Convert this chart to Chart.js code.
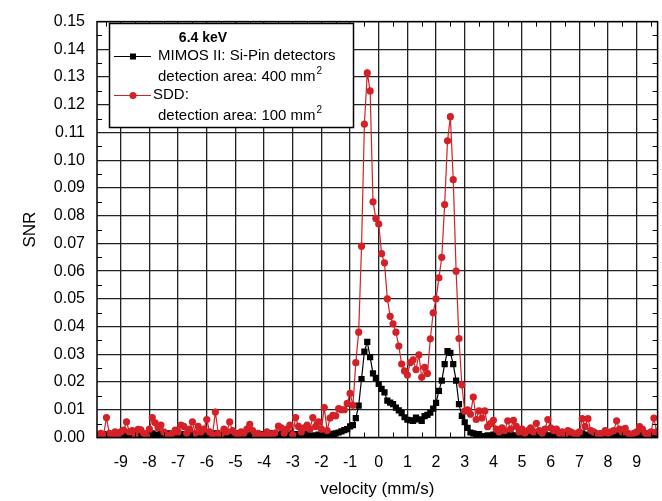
<!DOCTYPE html>
<html>
<head>
<meta charset="utf-8">
<script src="https://cdn.jsdelivr.net/npm/chart.js@4.4.0/dist/chart.umd.min.js"></script>
<style>
  html, body { margin: 0; padding: 0; background: #fff; }
  canvas { display: block; }
</style>
</head>
<body>
<canvas id="snr-chart" width="662" height="501"></canvas>
<script>
// velocity channels (mm/s)
var velocity = [
  -9.8,-9.7,-9.6,-9.5,-9.4,-9.3,-9.2,-9.1,-9.0,-8.9,
  -8.8,-8.7,-8.6,-8.5,-8.4,-8.3,-8.2,-8.1,-8.0,-7.9,
  -7.8,-7.7,-7.6,-7.5,-7.4,-7.3,-7.2,-7.1,-7.0,-6.9,
  -6.8,-6.7,-6.6,-6.5,-6.4,-6.3,-6.2,-6.1,-6.0,-5.9,
  -5.8,-5.7,-5.6,-5.5,-5.4,-5.3,-5.2,-5.1,-5.0,-4.9,
  -4.8,-4.7,-4.6,-4.5,-4.4,-4.3,-4.2,-4.1,-4.0,-3.9,
  -3.8,-3.7,-3.6,-3.5,-3.4,-3.3,-3.2,-3.1,-3.0,-2.9,
  -2.8,-2.7,-2.6,-2.5,-2.4,-2.3,-2.2,-2.1,-2.0,-1.9,
  -1.8,-1.7,-1.6,-1.5,-1.4,-1.3,-1.2,-1.1,-1.0,-0.9,
  -0.8,-0.7,-0.6,-0.5,-0.4,-0.3,-0.2,-0.1,0.0,0.1,
  0.2,0.3,0.4,0.5,0.6,0.7,0.8,0.9,1.0,1.1,
  1.2,1.3,1.4,1.5,1.6,1.7,1.8,1.9,2.0,2.1,
  2.2,2.3,2.4,2.5,2.6,2.7,2.8,2.9,3.0,3.1,
  3.2,3.3,3.4,3.5,3.6,3.7,3.8,3.9,4.0,4.1,
  4.2,4.3,4.4,4.5,4.6,4.7,4.8,4.9,5.0,5.1,
  5.2,5.3,5.4,5.5,5.6,5.7,5.8,5.9,6.0,6.1,
  6.2,6.3,6.4,6.5,6.6,6.7,6.8,6.9,7.0,7.1,
  7.2,7.3,7.4,7.5,7.6,7.7,7.8,7.9,8.0,8.1,
  8.2,8.3,8.4,8.5,8.6,8.7,8.8,8.9,9.0,9.1,
  9.2,9.3,9.4,9.5,9.6,9.7
];

// MIMOS II, Si-Pin detectors (400 mm2)
var mimosSnr = [
  0.0005,0.0010,0.0008,0.0012,0.0005,0.0010,0.0015,0.0008,0.0010,0.0005,
  0.0012,0.0008,0.0010,0.0015,0.0005,0.0010,0.0012,0.0008,0.0010,0.0015,
  0.0010,0.0005,0.0012,0.0010,0.0008,0.0015,0.0010,0.0005,0.0010,0.0012,
  0.0008,0.0010,0.0015,0.0005,0.0010,0.0012,0.0008,0.0010,0.0005,0.0012,
  0.0010,0.0015,0.0008,0.0010,0.0005,0.0012,0.0010,0.0008,0.0015,0.0010,
  0.0005,0.0012,0.0010,0.0008,0.0015,0.0010,0.0005,0.0012,0.0010,0.0008,
  0.0010,0.0015,0.0005,0.0010,0.0012,0.0008,0.0010,0.0015,0.0008,0.0012,
  0.0010,0.0008,0.0012,0.0010,0.0005,0.0008,0.0005,0.0010,0.0008,0.0010,
  0.0012,0.0010,0.0013,0.0015,0.0018,0.0022,0.0027,0.0030,0.0040,0.0045,
  0.0070,0.0115,0.0211,0.0310,0.0345,0.0290,0.0231,0.0215,0.0193,0.0175,
  0.0163,0.0133,0.0126,0.0120,0.0108,0.0098,0.0088,0.0073,0.0064,0.0062,
  0.0060,0.0072,0.0065,0.0060,0.0077,0.0082,0.0090,0.0104,0.0125,0.0168,
  0.0205,0.0265,0.0312,0.0305,0.0265,0.0205,0.0120,0.0078,0.0055,0.0035,
  0.0018,0.0015,0.0010,0.0012,0.0005,0.0003,0.0008,0.0005,0.0010,0.0012,
  0.0008,0.0010,0.0005,0.0012,0.0010,0.0008,0.0005,0.0010,0.0012,0.0008,
  0.0010,0.0005,0.0012,0.0008,0.0010,0.0015,0.0010,0.0005,0.0008,0.0012,
  0.0010,0.0008,0.0012,0.0010,0.0005,0.0010,0.0008,0.0012,0.0010,0.0015,
  0.0008,0.0010,0.0005,0.0012,0.0010,0.0008,0.0015,0.0010,0.0012,0.0008,
  0.0010,0.0012,0.0008,0.0015,0.0010,0.0005,0.0010,0.0012,0.0008,0.0010,
  0.0012,0.0008,0.0015,0.0010,0.0005,0.0010
];

// SDD (100 mm2)
var sddSnr = [
  0.0000,0.0015,0.0010,0.0072,0.0015,0.0005,0.0020,0.0010,0.0020,0.0027,
  0.0056,0.0020,0.0025,0.0010,0.0029,0.0028,0.0015,0.0005,0.0030,0.0072,
  0.0053,0.0035,0.0045,0.0020,0.0010,0.0005,0.0015,0.0027,0.0020,0.0045,
  0.0040,0.0015,0.0030,0.0056,0.0015,0.0040,0.0020,0.0030,0.0065,0.0020,
  0.0010,0.0092,0.0015,0.0010,0.0030,0.0020,0.0056,0.0025,0.0015,0.0010,
  0.0020,0.0015,0.0030,0.0047,0.0025,0.0005,0.0015,0.0005,0.0010,0.0020,
  0.0005,0.0012,0.0017,0.0041,0.0035,0.0015,0.0030,0.0045,0.0010,0.0072,
  0.0040,0.0020,0.0035,0.0045,0.0030,0.0072,0.0040,0.0056,0.0030,0.0108,
  0.0025,0.0070,0.0080,0.0078,0.0104,0.0100,0.0100,0.0123,0.0159,0.0116,
  0.0270,0.0380,0.0690,0.1130,0.1315,0.1250,0.0850,0.0790,0.0770,0.0663,
  0.0630,0.0500,0.0437,0.0410,0.0380,0.0330,0.0265,0.0240,0.0225,0.0270,
  0.0280,0.0245,0.0298,0.0217,0.0253,0.0231,0.0356,0.0450,0.0500,0.0576,
  0.0650,0.0840,0.1070,0.1157,0.0930,0.0600,0.0357,0.0190,0.0095,0.0100,
  0.0084,0.0146,0.0065,0.0096,0.0070,0.0096,0.0039,0.0050,0.0062,0.0030,
  0.0020,0.0035,0.0025,0.0060,0.0030,0.0062,0.0040,0.0020,0.0030,0.0015,
  0.0025,0.0035,0.0020,0.0051,0.0025,0.0015,0.0030,0.0065,0.0035,0.0025,
  0.0030,0.0015,0.0020,0.0010,0.0025,0.0020,0.0015,0.0010,0.0020,0.0068,
  0.0040,0.0068,0.0025,0.0020,0.0015,0.0005,0.0015,0.0025,0.0015,0.0020,
  0.0025,0.0060,0.0030,0.0020,0.0033,0.0015,0.0010,0.0015,0.0020,0.0039,
  0.0030,0.0015,0.0010,0.0020,0.0070,0.0020
];

var xMin = -9.83, xMax = 9.73;
var yMin = 0, yMax = 0.15;

var sddColor = "#d42027";
var fontFamily = "'Liberation Sans', Arial, sans-serif";

function toPoints(xs, ys) {
    var pts = [];
    for (var i = 0; i < xs.length; i++) {
        pts.push({x: xs[i], y: ys[i]});
    }
    return pts;
}

// frame: borders on all sides plus short inward minor ticks
var frame = {
    id: "frame",
    afterDatasetsDraw: function(chart) {
        var c = chart.ctx, a = chart.chartArea;
        var xs = chart.scales.x, ys = chart.scales.y;
        c.save();
        c.strokeStyle = "#000";
        c.lineWidth = 1;
        c.beginPath();
        for (var v = -9.5; v <= xMax; v += 0.5) {
            if (Math.abs(v % 1) < 0.01) continue;
            var px = Math.round(xs.getPixelForValue(v)) + 0.5;
            c.moveTo(px, a.bottom); c.lineTo(px, a.bottom - 5);
            c.moveTo(px, a.top); c.lineTo(px, a.top + 5);
        }
        for (var k = 1; k < 30; k += 2) {
            var py = Math.round(ys.getPixelForValue(k * 0.005)) + 0.5;
            c.moveTo(a.left, py); c.lineTo(a.left + 5, py);
            c.moveTo(a.right, py); c.lineTo(a.right - 5, py);
        }
        c.stroke();
        c.lineWidth = 1.5;
        c.strokeRect(a.left, a.top, a.right - a.left, a.bottom - a.top);
        c.restore();
    }
};

// the boxed legend in the upper left
var legendBox = {
    id: "legendBox",
    afterDraw: function(chart) {
        var c = chart.ctx;
        c.save();
        c.fillStyle = "#fff";
        c.fillRect(109, 23, 244, 104);
        c.strokeStyle = "#000";
        c.lineWidth = 1.5;
        c.strokeRect(109.5, 23.5, 244, 104);

        c.fillStyle = "#000";
        c.textBaseline = "middle";
        c.textAlign = "center";
        c.font = "bold 14px " + fontFamily;
        c.fillText("6.4 keV", 203, 38);

        c.textAlign = "left";
        c.font = "15px " + fontFamily;

        // black square entry
        c.strokeStyle = "#000"; c.lineWidth = 1.2;
        c.beginPath(); c.moveTo(114, 56.5); c.lineTo(151, 56.5); c.stroke();
        c.fillRect(130, 53.5, 6, 6);
        c.fillText("MIMOS II: Si-Pin detectors", 158, 56);
        drawArea(c, "detection area: 400 mm", 158, 77);

        // red circle entry
        c.strokeStyle = sddColor;
        c.beginPath(); c.moveTo(114, 95.5); c.lineTo(151, 95.5); c.stroke();
        c.fillStyle = sddColor;
        c.beginPath(); c.arc(133, 95.5, 3.5, 0, Math.PI * 2); c.fill();
        c.fillStyle = "#000";
        c.fillText("SDD:", 153, 95);
        drawArea(c, "detection area: 100 mm", 158, 116);
        c.restore();
    }
};

function drawArea(c, text, x, y) {
    c.font = "15px " + fontFamily;
    c.fillText(text, x, y);
    var w = c.measureText(text).width;
    c.font = "10px " + fontFamily;
    c.fillText("2", x + w + 1, y - 6);
    c.font = "15px " + fontFamily;
}

var ctx = document.getElementById("snr-chart");

var chartData = {
    datasets: [{
        label: "SDD",
        data: toPoints(velocity, sddSnr),
        borderColor: sddColor,
        backgroundColor: sddColor,
        borderWidth: 1.2,
        pointStyle: "circle",
        pointRadius: 3.6,
        pointBorderWidth: 0,
        tension: 0
    }, {
        label: "MIMOS II",
        data: toPoints(velocity, mimosSnr),
        borderColor: "#000",
        backgroundColor: "#000",
        borderWidth: 1.2,
        pointStyle: "rect",
        pointRadius: 4.4,
        pointBorderWidth: 0,
        tension: 0
    }]
};

var config = {
    type: "line",
    data: chartData,
    options: {
        responsive: false,
        animation: false,
        layout: { padding: { top: 17, right: 1, left: 0, bottom: 0 } },
        plugins: {
            legend: { display: false },
            tooltip: { enabled: false }
        },
        scales: {
            x: {
                type: "linear",
                min: xMin,
                max: xMax,
                afterFit: function(scale) { scale.height = 63.5; },
                grid: { color: "#222", lineWidth: 1.3, drawTicks: false },
                border: { display: false },
                ticks: {
                    stepSize: 1,
                    includeBounds: false,
                    padding: 15,
                    color: "#000",
                    font: { family: fontFamily, size: 16 },
                    maxRotation: 0,
                    callback: function(v) { return String(Math.round(v)); }
                },
                title: {
                    display: true,
                    text: "velocity (mm/s)",
                    color: "#000",
                    font: { family: fontFamily, size: 17 },
                    padding: { top: 0, bottom: 1 }
                }
            },
            y: {
                min: yMin,
                max: yMax,
                afterFit: function(scale) { scale.width = 97; },
                grid: { color: "#222", lineWidth: 1.3, drawTicks: false },
                border: { display: false },
                ticks: {
                    stepSize: 0.01,
                    padding: 12,
                    color: "#000",
                    font: { family: fontFamily, size: 16 },
                    callback: function(v) { return v.toFixed(2); }
                },
                title: {
                    display: true,
                    text: "SNR",
                    color: "#000",
                    font: { family: fontFamily, size: 17 },
                    padding: { top: 20, bottom: 0 }
                }
            }
        }
    },
    plugins: [frame, legendBox]
};

var snrChart = new Chart(ctx, config);
</script>
</body>
</html>
